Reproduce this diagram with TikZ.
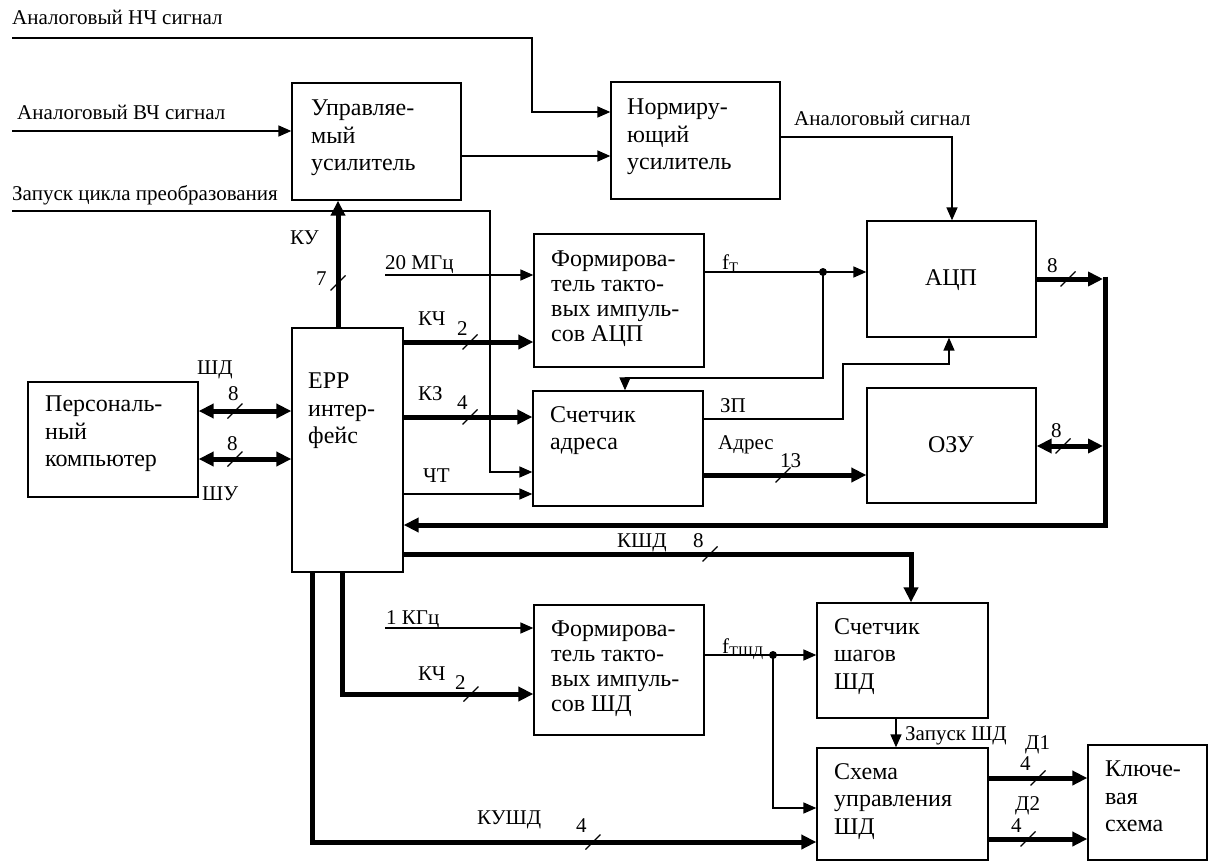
\documentclass[tikz,border=0pt]{standalone}
\usepackage{fontspec}
\setmainfont{Liberation Serif}
\usetikzlibrary{arrows.meta}
\begin{document}
\begin{tikzpicture}[x=1pt,y=-1pt,
  box/.style={draw, line width=1.3pt, inner sep=0pt},
  btext/.style={anchor=north west, inner sep=0pt, align=left, font=\fontsize{24}{27.5}\selectfont, execute at begin node=\strut},
  btextb/.style={btext, font=\fontsize{24}{25}\selectfont},
  ctext/.style={anchor=base, inner sep=0pt, font=\fontsize{24}{27.5}\selectfont},
  lbl/.style={anchor=base west, inner sep=0pt, font=\fontsize{21}{23}\selectfont},
  sig/.style={line width=1.5pt},
  sigar/.style={sig, -{Triangle[length=13pt,width=11pt]}},
  bus/.style={line width=5pt},
  busar/.style={bus, -{Triangle[length=15pt,width=14pt]}},
  busbi/.style={bus, {Triangle[length=15pt,width=14pt]}-{Triangle[length=15pt,width=14pt]}},
  dot/.style={circle, fill, inner sep=0pt, minimum size=8pt},
  tick/.pic={\draw[line width=1.2pt] (-7.5,7.5) -- (7.5,-7.5);}
]
\useasboundingbox (0,0) rectangle (1208,862);
\fill[white] (0,0) rectangle (1208,862);

% boxes
\node[box, minimum width=169pt, minimum height=117pt] (upr) at (376.5,141.5) {};
\node[box, minimum width=169pt, minimum height=117pt] (norm) at (695.5,140.5) {};
\node[box, minimum width=170pt, minimum height=133pt] (fadc) at (619,300.5) {};
\node[box, minimum width=169pt, minimum height=116pt] (adc) at (951.5,279) {};
\node[box, minimum width=170pt, minimum height=115pt] (cnt) at (618,448.5) {};
\node[box, minimum width=169pt, minimum height=115pt] (ram) at (951.5,445.5) {};
\node[box, minimum width=111pt, minimum height=244pt] (epp) at (347.5,450) {};
\node[box, minimum width=170pt, minimum height=115pt] (pc) at (113,439.5) {};
\node[box, minimum width=170pt, minimum height=130pt] (fsd) at (619,670) {};
\node[box, minimum width=171pt, minimum height=115pt] (ssd) at (902.5,660.5) {};
\node[box, minimum width=171pt, minimum height=112pt] (usd) at (902.5,804) {};
\node[box, minimum width=119pt, minimum height=115pt] (key) at (1147.5,802.5) {};

% box texts
\node[btext] (tupr) at (311,100) {Управляе-\\мый\\усилитель};
\node[btext] (tnorm) at (627,99) {Нормиру-\\ющий\\усилитель};
\node[btextb] (tfadc) at (551,251) {Формирова-\\тель такто-\\вых импуль-\\сов АЦП};
\node[ctext] (tadc) at (951,285) {АЦП};
\node[btext] (tcnt) at (550,406) {Счетчик\\адреса};
\node[ctext] (tram) at (951,452) {ОЗУ};
\node[btext] (tepp) at (308,373) {ЕРР\\интер-\\фейс};
\node[btext] (tpc) at (45,396) {Персональ-\\ный\\компьютер};
\node[btextb] (tfsd) at (551,621) {Формирова-\\тель такто-\\вых импуль-\\сов ШД};
\node[btext] (tssd) at (834,618) {Счетчик\\шагов\\ШД};
\node[btext] (tusd) at (834,763) {Схема\\управления\\ШД};
\node[btext] (tkey) at (1105,761) {Ключе-\\вая\\схема};

% free ends
\coordinate (nchS) at (12,38);
\coordinate (vchS) at (12,131);
\coordinate (zapS) at (12,211);
\coordinate (mhz) at (385,275);
\coordinate (khz) at (385,628);
\coordinate (busT) at (1105,276.5);

% connectors
\draw[sigar] (nchS) -- (532,38) -- (532,112) -- (norm.west |- 0,112);
\draw[sigar] (vchS) -- (upr.west |- 0,131);
\draw[sigar] (upr.east |- 0,156) -- (norm.west |- 0,156);
\draw[sigar] (norm.east |- 0,137) -- (952,137) -- (952,0 |- adc.north);
\draw[sigar] (zapS) -- (490,211) -- (490,472) -- (cnt.west |- 0,472);
\draw[busar] (338,0 |- epp.north) -- (338,0 |- upr.south);
\draw[sigar] (mhz) -- (fadc.west |- 0,275);
\draw[busar] (epp.east |- 0,342) -- (fadc.west |- 0,342);
\draw[busar] (epp.east |- 0,417) -- (cnt.west |- 0,417);
\draw[sigar] (epp.east |- 0,494) -- (cnt.west |- 0,494);
\node[dot] (j1) at (823,272) {};
\draw[sigar] (fadc.east |- 0,272) -- (adc.west |- 0,272);
\draw[sigar] (j1.center) -- (823,378) -- (625,378) -- (625,0 |- cnt.north);
\draw[sigar] (cnt.east |- 0,419) -- (843,419) -- (843,364) -- (949,364) -- (949,0 |- adc.south);
\draw[busar] (cnt.east |- 0,475) -- (ram.west |- 0,475);
\draw[busar] (adc.east |- 0,279) -- (1103,279);
\draw[busar] (busT) -- (1105,525) -- (epp.east |- 0,525);
\draw[busbi] (ram.east |- 0,446) -- (1103,446);
\draw[busar] (epp.east |- 0,554) -- (911,554) -- (911,0 |- ssd.north);
\draw[busar] (342,0 |- epp.south) -- (342,694) -- (fsd.west |- 0,694);
\draw[busar] (312,0 |- epp.south) -- (312,842) -- (usd.west |- 0,842);
\draw[sigar] (khz) -- (fsd.west |- 0,628);
\node[dot] (j2) at (773,655) {};
\draw[sigar] (fsd.east |- 0,655) -- (ssd.west |- 0,655);
\draw[sigar] (j2.center) -- (773,808) -- (usd.west |- 0,808);
\draw[sigar] (896,0 |- ssd.south) -- (896,0 |- usd.north);
\draw[busar] (usd.east |- 0,778) -- (key.west |- 0,778);
\draw[busar] (usd.east |- 0,839) -- (key.west |- 0,839);
\draw[busbi] (pc.east |- 0,411) -- (epp.west |- 0,411);
\draw[busbi] (pc.east |- 0,459) -- (epp.west |- 0,459);

% bus width ticks
\pic at (338,283) {tick};
\pic at (470,342) {tick};
\pic at (470,417) {tick};
\pic at (783,475) {tick};
\pic at (1068,279) {tick};
\pic at (1063,446) {tick};
\pic at (235,411) {tick};
\pic at (235,459) {tick};
\pic at (710,554) {tick};
\pic at (471,694) {tick};
\pic at (593,842) {tick};
\pic at (1038,778) {tick};
\pic at (1028,839) {tick};

% labels
\node[lbl] (lnch) at (12,24) {Аналоговый НЧ сигнал};
\node[lbl] (lvch) at (17,119) {Аналоговый ВЧ сигнал};
\node[lbl] (lzap) at (12,200) {Запуск цикла преобразования};
\node[lbl] (lan) at (794,125) {Аналоговый сигнал};
\node[lbl] (lku) at (290,244) {КУ};
\node[lbl] (l7) at (316,285) {7};
\node[lbl] (lmhz) at (385,269) {20 МГц};
\node[lbl] (lkch1) at (418,325) {КЧ};
\node[lbl] (l2a) at (457,335) {2};
\node[lbl] (lkz) at (418,400) {КЗ};
\node[lbl] (l4a) at (457,409) {4};
\node[lbl] (lcht) at (423,482) {ЧТ};
\node[lbl] (lft) at (722,269) {f\textsubscript{Т}};
\node[lbl] (lzp) at (720,412) {ЗП};
\node[lbl] (ladr) at (718,449) {Адрес};
\node[lbl] (l13) at (780,467) {13};
\node[lbl] (l8a) at (1047,272) {8};
\node[lbl] (l8b) at (1051,437) {8};
\node[lbl] (lshd) at (197,374) {ШД};
\node[lbl] (l8c) at (228,400) {8};
\node[lbl] (l8d) at (227,450) {8};
\node[lbl] (lshu) at (202,500) {ШУ};
\node[lbl] (lkshd) at (617,547) {КШД};
\node[lbl] (l8e) at (693,547) {8};
\node[lbl] (lkhz) at (386,624) {1 КГц};
\node[lbl] (lkch2) at (418,680) {КЧ};
\node[lbl] (l2b) at (455,689) {2};
\node[lbl] (lftsd) at (722,653) {f\textsubscript{ТШД}};
\node[lbl] (lkushd) at (477,824) {КУШД};
\node[lbl] (l4b) at (576,832) {4};
\node[lbl] (lzsd) at (905,740) {Запуск ШД};
\node[lbl] (ld1) at (1025,749) {Д1};
\node[lbl] (l4c) at (1020,770) {4};
\node[lbl] (ld2) at (1015,810) {Д2};
\node[lbl] (l4d) at (1011,832) {4};
\end{tikzpicture}
\end{document}
